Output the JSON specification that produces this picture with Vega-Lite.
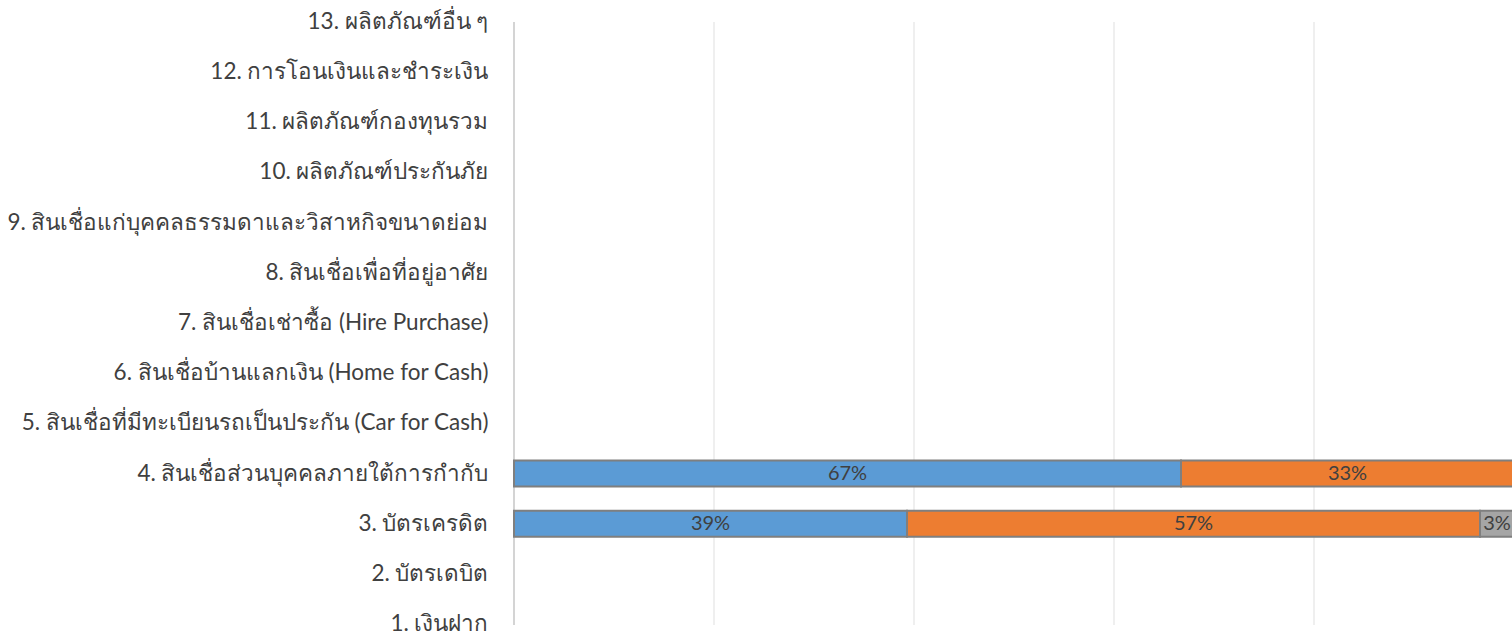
{
  "$schema": "https://vega.github.io/schema/vega-lite/v6.json",
  "width": 1000,
  "height": 603,
  "autosize": {"type": "none"},
  "padding": {"left": 514, "top": 22, "right": 0, "bottom": 10},
  "background": "white",
  "config": {"view": {"stroke": null}, "font": "Lato"},
  "datasets": {
    "grid": [{"g": 0.2}, {"g": 0.4}, {"g": 0.6}, {"g": 0.8}, {"g": 1}],
    "axisline": [{"g": 0}]
  },
  "data": {
    "values": [
      {"cat": "4. สินเชื่อส่วนบุคคลภายใต้การกำกับ", "series": "กลุ่ม 1", "v": 0.667},
      {"cat": "4. สินเชื่อส่วนบุคคลภายใต้การกำกับ", "series": "กลุ่ม 2", "v": 0.333},
      {"cat": "3. บัตรเครดิต", "series": "กลุ่ม 1", "v": 0.393},
      {"cat": "3. บัตรเครดิต", "series": "กลุ่ม 2", "v": 0.573},
      {"cat": "3. บัตรเครดิต", "series": "กลุ่ม 3", "v": 0.034}
    ]
  },
  "layer": [
    {
      "data": {"name": "grid"},
      "mark": {"type": "rule", "color": "#efefef", "strokeWidth": 2},
      "encoding": {
        "x": {"field": "g", "type": "quantitative", "scale": {"domain": [0, 1], "nice": false}, "axis": null},
        "y": {"value": 0},
        "y2": {"value": {"expr": "height"}}
      }
    },
    {
      "data": {"name": "axisline"},
      "mark": {"type": "rule", "color": "#d4d4d4", "strokeWidth": 2},
      "encoding": {
        "x": {"field": "g", "type": "quantitative"},
        "y": {"value": 0},
        "y2": {"value": {"expr": "height"}}
      }
    },
    {
      "transform": [
        {"stack": "v", "groupby": ["cat"], "sort": [{"field": "series", "order": "ascending"}], "as": ["v0", "v1"]},
        {"calculate": "(datum.v0 + datum.v1) / 2", "as": "mid"}
      ],
      "encoding": {
        "y": {
          "field": "cat",
          "type": "nominal",
          "scale": {
            "domain": [
              "13. ผลิตภัณฑ์อื่น ๆ",
              "12. การโอนเงินและชำระเงิน",
              "11. ผลิตภัณฑ์กองทุนรวม",
              "10. ผลิตภัณฑ์ประกันภัย",
              "9. สินเชื่อแก่บุคคลธรรมดาและวิสาหกิจขนาดย่อม",
              "8. สินเชื่อเพื่อที่อยู่อาศัย",
              "7. สินเชื่อเช่าซื้อ (Hire Purchase)",
              "6. สินเชื่อบ้านแลกเงิน (Home for Cash)",
              "5. สินเชื่อที่มีทะเบียนรถเป็นประกัน (Car for Cash)",
              "4. สินเชื่อส่วนบุคคลภายใต้การกำกับ",
              "3. บัตรเครดิต",
              "2. บัตรเดบิต",
              "1. เงินฝาก"
            ],
            "range": [-13, 615],
            "paddingInner": 0.485,
            "paddingOuter": 0
          },
          "axis": {
            "title": null,
            "ticks": false,
            "domain": false,
            "grid": false,
            "labelPadding": 26,
            "labelFontSize": 22.5,
            "labelColor": "#404040",
            "labelLimit": 700
          }
        }
      },
      "layer": [
        {
          "mark": {"type": "bar", "stroke": "#7f7f7f", "strokeWidth": 2},
          "encoding": {
            "x": {"field": "v0", "type": "quantitative"},
            "x2": {"field": "v1"},
            "color": {
              "field": "series",
              "type": "nominal",
              "scale": {"domain": ["กลุ่ม 1", "กลุ่ม 2", "กลุ่ม 3"], "range": ["#5B9BD5", "#ED7D31", "#A5A5A5"]},
              "legend": null
            }
          }
        },
        {
          "mark": {"type": "text", "fontSize": 20, "color": "#404040"},
          "encoding": {
            "x": {"field": "mid", "type": "quantitative"},
            "text": {"field": "v", "type": "quantitative", "format": ".0%"}
          }
        }
      ]
    }
  ]
}
